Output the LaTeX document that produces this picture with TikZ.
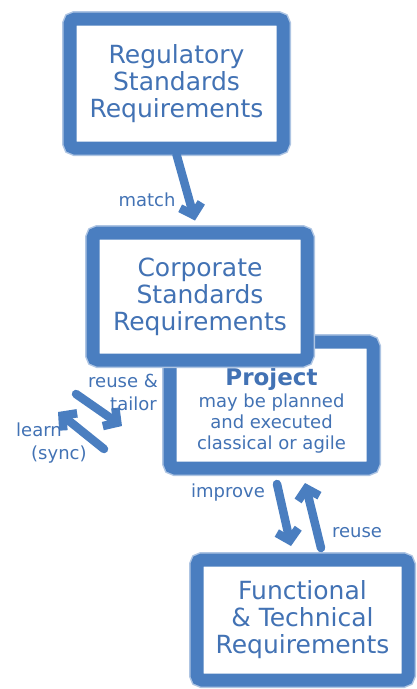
\documentclass[tikz,border=0pt]{standalone}
\usepackage{fontspec}
\setmainfont{DejaVu Sans}
\usepackage{tikz}
\usetikzlibrary{arrows.meta}

\definecolor{chalk}{RGB}{74,126,192}
\definecolor{ink}{RGB}{66,114,180}

\begin{document}
\begin{tikzpicture}[
    x=1pt, y=-1pt,
    board/.style={draw=chalk, line width=13pt, rounded corners=5pt, fill=white,
        preaction={draw=chalk!45, line width=16pt},
        align=center, text=ink, font=\fontsize{25}{27}\selectfont},
    label/.style={align=left, inner sep=0pt, text=ink, font=\fontsize{18}{23}\selectfont},
    arrow/.style={draw=chalk, line width=8.5pt, line cap=round, line join=round,
        -{Straight Barb[length=10pt,width=22pt]}}
]
\useasboundingbox (0,0) rectangle (417,689);

% project sits behind the corporate box
\node[board, minimum width=203pt, minimum height=126pt, font=\fontsize{18}{21}\selectfont]
    (proj) at (271.5,405)
    {{\fontsize{23}{24}\selectfont\bfseries\rule{0pt}{29pt}Project}\\[1pt]
     may be planned\\and executed\\classical or agile};
\node[board, minimum width=213pt, minimum height=129pt] (reg) at (176.5,83.5)
    {Regulatory\\Standards\\Requirements};
\node[board, minimum width=214pt, minimum height=127pt] (corp) at (200,296.5)
    {Corporate\\Standards\\Requirements};
\node[board, minimum width=211pt, minimum height=120pt] (func) at (302.5,620)
    {Functional\\\& Technical\\Requirements};

% free ends of the side arrows
\coordinate (tailorA) at (76,394);
\coordinate (tailorB) at (122,426);
\coordinate (learnA) at (104,449);
\coordinate (learnB) at (58,412);
\coordinate (improveA) at (277,484);
\coordinate (improveB) at (291,546);
\coordinate (reuseA) at (321,548);
\coordinate (reuseB) at (305,483);

\draw[arrow] (reg.south) -- ([xshift=-5pt,yshift=6pt]corp.north);
\draw[arrow] (tailorA) -- (tailorB);
\draw[arrow] (learnA) -- (learnB);
\draw[arrow] (improveA) -- (improveB);
\draw[arrow] (reuseA) -- (reuseB);

\node[label] (match) at (147,200) {match};
\node[label, anchor=west] (tailor) at (88,392) {reuse \&\\\hspace*{22pt}tailor};
\node[label, anchor=west] (learn) at (16,443) {learn\\\hspace*{15pt}(sync)};
\node[label] (improve) at (228,493) {improve};
\node[label] (reuse) at (357,533) {reuse};
\end{tikzpicture}
\end{document}
